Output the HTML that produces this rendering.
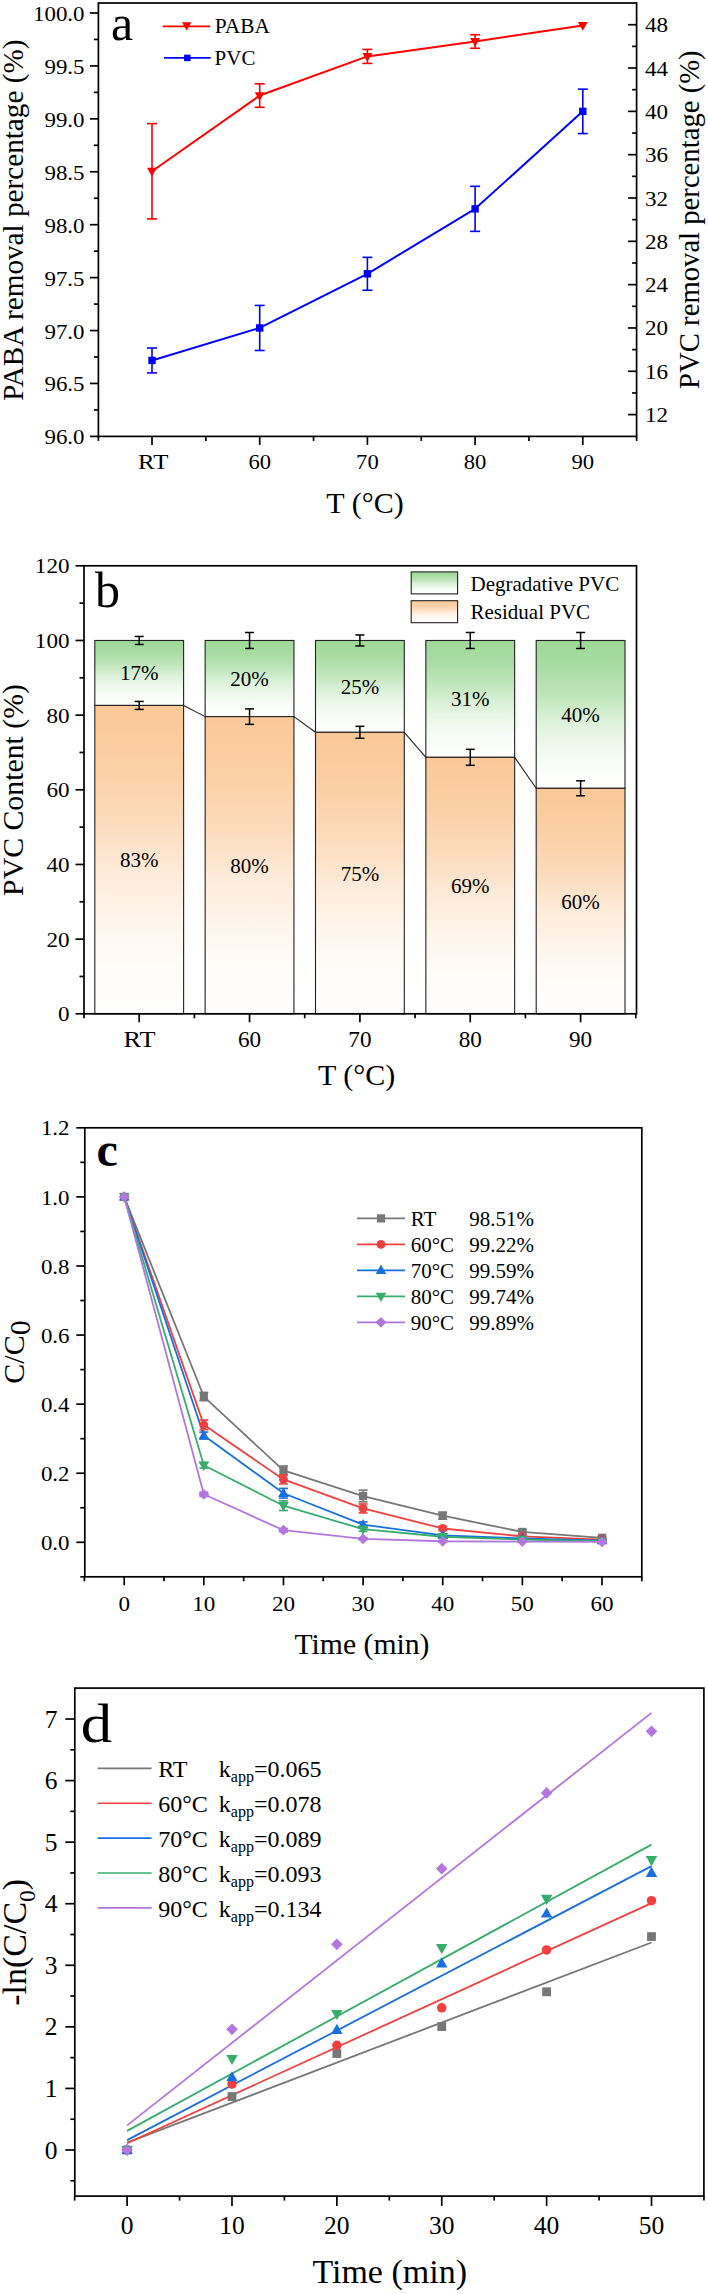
<!DOCTYPE html><html><head><meta charset="utf-8"><style>html,body{margin:0;padding:0;background:#fff}svg{display:block}</style></head><body><svg width="708" height="2294" viewBox="0 0 708 2294" style="font-family:&quot;Liberation Serif&quot;, serif">
<rect width="708" height="2294" fill="#fff"/>
<rect x="98.40" y="3.00" width="538.20" height="433.40" fill="none" stroke="#000" stroke-width="1.7"/>
<line x1="152.00" y1="436.40" x2="152.00" y2="444.90" stroke="#000" stroke-width="1.7"/>
<line x1="259.70" y1="436.40" x2="259.70" y2="444.90" stroke="#000" stroke-width="1.7"/>
<line x1="367.40" y1="436.40" x2="367.40" y2="444.90" stroke="#000" stroke-width="1.7"/>
<line x1="475.10" y1="436.40" x2="475.10" y2="444.90" stroke="#000" stroke-width="1.7"/>
<line x1="582.80" y1="436.40" x2="582.80" y2="444.90" stroke="#000" stroke-width="1.7"/>
<line x1="98.40" y1="436.40" x2="98.40" y2="440.90" stroke="#000" stroke-width="1.7"/>
<line x1="205.85" y1="436.40" x2="205.85" y2="440.90" stroke="#000" stroke-width="1.7"/>
<line x1="313.55" y1="436.40" x2="313.55" y2="440.90" stroke="#000" stroke-width="1.7"/>
<line x1="421.25" y1="436.40" x2="421.25" y2="440.90" stroke="#000" stroke-width="1.7"/>
<line x1="528.95" y1="436.40" x2="528.95" y2="440.90" stroke="#000" stroke-width="1.7"/>
<line x1="636.65" y1="436.40" x2="636.65" y2="440.90" stroke="#000" stroke-width="1.7"/>
<text x="0" y="0" font-size="22" text-anchor="middle" fill="#000" transform="translate(153.20 469.00) scale(1.13 1)">RT</text>
<text x="0" y="0" font-size="22" text-anchor="middle" fill="#000" transform="translate(259.70 469.00) scale(1.03 1)">60</text>
<text x="0" y="0" font-size="22" text-anchor="middle" fill="#000" transform="translate(367.40 469.00) scale(1.03 1)">70</text>
<text x="0" y="0" font-size="22" text-anchor="middle" fill="#000" transform="translate(475.10 469.00) scale(1.03 1)">80</text>
<text x="0" y="0" font-size="22" text-anchor="middle" fill="#000" transform="translate(582.80 469.00) scale(1.03 1)">90</text>
<line x1="89.90" y1="436.40" x2="98.40" y2="436.40" stroke="#000" stroke-width="1.7"/>
<text x="0" y="0" font-size="22" text-anchor="end" fill="#000" transform="translate(84.50 444.40) scale(1.04 1)">96.0</text>
<line x1="89.90" y1="383.47" x2="98.40" y2="383.47" stroke="#000" stroke-width="1.7"/>
<text x="0" y="0" font-size="22" text-anchor="end" fill="#000" transform="translate(84.50 391.47) scale(1.04 1)">96.5</text>
<line x1="89.90" y1="330.55" x2="98.40" y2="330.55" stroke="#000" stroke-width="1.7"/>
<text x="0" y="0" font-size="22" text-anchor="end" fill="#000" transform="translate(84.50 338.55) scale(1.04 1)">97.0</text>
<line x1="89.90" y1="277.62" x2="98.40" y2="277.62" stroke="#000" stroke-width="1.7"/>
<text x="0" y="0" font-size="22" text-anchor="end" fill="#000" transform="translate(84.50 285.62) scale(1.04 1)">97.5</text>
<line x1="89.90" y1="224.70" x2="98.40" y2="224.70" stroke="#000" stroke-width="1.7"/>
<text x="0" y="0" font-size="22" text-anchor="end" fill="#000" transform="translate(84.50 232.70) scale(1.04 1)">98.0</text>
<line x1="89.90" y1="171.77" x2="98.40" y2="171.77" stroke="#000" stroke-width="1.7"/>
<text x="0" y="0" font-size="22" text-anchor="end" fill="#000" transform="translate(84.50 179.77) scale(1.04 1)">98.5</text>
<line x1="89.90" y1="118.85" x2="98.40" y2="118.85" stroke="#000" stroke-width="1.7"/>
<text x="0" y="0" font-size="22" text-anchor="end" fill="#000" transform="translate(84.50 126.85) scale(1.04 1)">99.0</text>
<line x1="89.90" y1="65.93" x2="98.40" y2="65.93" stroke="#000" stroke-width="1.7"/>
<text x="0" y="0" font-size="22" text-anchor="end" fill="#000" transform="translate(84.50 73.93) scale(1.04 1)">99.5</text>
<line x1="89.90" y1="13.00" x2="98.40" y2="13.00" stroke="#000" stroke-width="1.7"/>
<text x="0" y="0" font-size="22" text-anchor="end" fill="#000" transform="translate(84.50 21.00) scale(1.04 1)">100.0</text>
<line x1="93.90" y1="409.94" x2="98.40" y2="409.94" stroke="#000" stroke-width="1.7"/>
<line x1="93.90" y1="357.01" x2="98.40" y2="357.01" stroke="#000" stroke-width="1.7"/>
<line x1="93.90" y1="304.09" x2="98.40" y2="304.09" stroke="#000" stroke-width="1.7"/>
<line x1="93.90" y1="251.16" x2="98.40" y2="251.16" stroke="#000" stroke-width="1.7"/>
<line x1="93.90" y1="198.24" x2="98.40" y2="198.24" stroke="#000" stroke-width="1.7"/>
<line x1="93.90" y1="145.31" x2="98.40" y2="145.31" stroke="#000" stroke-width="1.7"/>
<line x1="93.90" y1="92.39" x2="98.40" y2="92.39" stroke="#000" stroke-width="1.7"/>
<line x1="93.90" y1="39.46" x2="98.40" y2="39.46" stroke="#000" stroke-width="1.7"/>
<line x1="628.10" y1="414.60" x2="636.60" y2="414.60" stroke="#000" stroke-width="1.7"/>
<text x="0" y="0" font-size="22" text-anchor="start" fill="#000" transform="translate(645.00 422.10) scale(1.05 1)">12</text>
<line x1="628.10" y1="371.28" x2="636.60" y2="371.28" stroke="#000" stroke-width="1.7"/>
<text x="0" y="0" font-size="22" text-anchor="start" fill="#000" transform="translate(645.00 378.78) scale(1.05 1)">16</text>
<line x1="628.10" y1="327.96" x2="636.60" y2="327.96" stroke="#000" stroke-width="1.7"/>
<text x="0" y="0" font-size="22" text-anchor="start" fill="#000" transform="translate(645.00 335.46) scale(1.05 1)">20</text>
<line x1="628.10" y1="284.64" x2="636.60" y2="284.64" stroke="#000" stroke-width="1.7"/>
<text x="0" y="0" font-size="22" text-anchor="start" fill="#000" transform="translate(645.00 292.14) scale(1.05 1)">24</text>
<line x1="628.10" y1="241.32" x2="636.60" y2="241.32" stroke="#000" stroke-width="1.7"/>
<text x="0" y="0" font-size="22" text-anchor="start" fill="#000" transform="translate(645.00 248.82) scale(1.05 1)">28</text>
<line x1="628.10" y1="198.00" x2="636.60" y2="198.00" stroke="#000" stroke-width="1.7"/>
<text x="0" y="0" font-size="22" text-anchor="start" fill="#000" transform="translate(645.00 205.50) scale(1.05 1)">32</text>
<line x1="628.10" y1="154.68" x2="636.60" y2="154.68" stroke="#000" stroke-width="1.7"/>
<text x="0" y="0" font-size="22" text-anchor="start" fill="#000" transform="translate(645.00 162.18) scale(1.05 1)">36</text>
<line x1="628.10" y1="111.36" x2="636.60" y2="111.36" stroke="#000" stroke-width="1.7"/>
<text x="0" y="0" font-size="22" text-anchor="start" fill="#000" transform="translate(645.00 118.86) scale(1.05 1)">40</text>
<line x1="628.10" y1="68.04" x2="636.60" y2="68.04" stroke="#000" stroke-width="1.7"/>
<text x="0" y="0" font-size="22" text-anchor="start" fill="#000" transform="translate(645.00 75.54) scale(1.05 1)">44</text>
<line x1="628.10" y1="24.72" x2="636.60" y2="24.72" stroke="#000" stroke-width="1.7"/>
<text x="0" y="0" font-size="22" text-anchor="start" fill="#000" transform="translate(645.00 32.22) scale(1.05 1)">48</text>
<line x1="632.10" y1="392.94" x2="636.60" y2="392.94" stroke="#000" stroke-width="1.7"/>
<line x1="632.10" y1="349.62" x2="636.60" y2="349.62" stroke="#000" stroke-width="1.7"/>
<line x1="632.10" y1="306.30" x2="636.60" y2="306.30" stroke="#000" stroke-width="1.7"/>
<line x1="632.10" y1="262.98" x2="636.60" y2="262.98" stroke="#000" stroke-width="1.7"/>
<line x1="632.10" y1="219.66" x2="636.60" y2="219.66" stroke="#000" stroke-width="1.7"/>
<line x1="632.10" y1="176.34" x2="636.60" y2="176.34" stroke="#000" stroke-width="1.7"/>
<line x1="632.10" y1="133.02" x2="636.60" y2="133.02" stroke="#000" stroke-width="1.7"/>
<line x1="632.10" y1="89.70" x2="636.60" y2="89.70" stroke="#000" stroke-width="1.7"/>
<line x1="632.10" y1="46.38" x2="636.60" y2="46.38" stroke="#000" stroke-width="1.7"/>
<text x="23.00" y="220.20" font-size="29.2" text-anchor="middle" fill="#000" transform="rotate(-90 23 220.2)">PABA removal percentage (%)</text>
<text x="698.80" y="219.60" font-size="28.7" text-anchor="middle" fill="#000" transform="rotate(-90 698.8 219.6)">PVC removal percentage (%)</text>
<text x="365.00" y="513.00" font-size="30" text-anchor="middle" fill="#000">T (°C)</text>
<text x="111.00" y="39.50" font-size="50" text-anchor="start" fill="#000">a</text>
<polyline points="152.00,171.25 259.70,95.56 367.40,56.40 475.10,41.47 582.80,25.49" fill="none" stroke="#FF0000" stroke-width="2.0" stroke-linejoin="round"/>
<line x1="152.00" y1="123.61" x2="152.00" y2="218.88" stroke="#FF0000" stroke-width="1.6"/>
<line x1="147.00" y1="123.61" x2="157.00" y2="123.61" stroke="#FF0000" stroke-width="1.6"/>
<line x1="147.00" y1="218.88" x2="157.00" y2="218.88" stroke="#FF0000" stroke-width="1.6"/>
<polygon points="147.06,167.83 156.94,167.83 152.00,176.57" fill="#FF0000"/>
<line x1="259.70" y1="83.81" x2="259.70" y2="107.31" stroke="#FF0000" stroke-width="1.6"/>
<line x1="254.70" y1="83.81" x2="264.70" y2="83.81" stroke="#FF0000" stroke-width="1.6"/>
<line x1="254.70" y1="107.31" x2="264.70" y2="107.31" stroke="#FF0000" stroke-width="1.6"/>
<polygon points="254.76,92.14 264.64,92.14 259.70,100.88" fill="#FF0000"/>
<line x1="367.40" y1="49.41" x2="367.40" y2="63.38" stroke="#FF0000" stroke-width="1.6"/>
<line x1="362.40" y1="49.41" x2="372.40" y2="49.41" stroke="#FF0000" stroke-width="1.6"/>
<line x1="362.40" y1="63.38" x2="372.40" y2="63.38" stroke="#FF0000" stroke-width="1.6"/>
<polygon points="362.46,52.98 372.34,52.98 367.40,61.72" fill="#FF0000"/>
<line x1="475.10" y1="34.70" x2="475.10" y2="48.25" stroke="#FF0000" stroke-width="1.6"/>
<line x1="470.10" y1="34.70" x2="480.10" y2="34.70" stroke="#FF0000" stroke-width="1.6"/>
<line x1="470.10" y1="48.25" x2="480.10" y2="48.25" stroke="#FF0000" stroke-width="1.6"/>
<polygon points="470.16,38.05 480.04,38.05 475.10,46.79" fill="#FF0000"/>
<polygon points="577.86,22.07 587.74,22.07 582.80,30.81" fill="#FF0000"/>
<polyline points="152.00,360.45 259.70,327.96 367.40,273.81 475.10,208.83 582.80,111.36" fill="none" stroke="#0000FF" stroke-width="2.0" stroke-linejoin="round"/>
<line x1="152.00" y1="348.00" x2="152.00" y2="372.90" stroke="#0000FF" stroke-width="1.6"/>
<line x1="147.00" y1="348.00" x2="157.00" y2="348.00" stroke="#0000FF" stroke-width="1.6"/>
<line x1="147.00" y1="372.90" x2="157.00" y2="372.90" stroke="#0000FF" stroke-width="1.6"/>
<rect x="148.30" y="356.75" width="7.40" height="7.40" fill="#0000FF"/>
<line x1="259.70" y1="305.43" x2="259.70" y2="350.49" stroke="#0000FF" stroke-width="1.6"/>
<line x1="254.70" y1="305.43" x2="264.70" y2="305.43" stroke="#0000FF" stroke-width="1.6"/>
<line x1="254.70" y1="350.49" x2="264.70" y2="350.49" stroke="#0000FF" stroke-width="1.6"/>
<rect x="256.00" y="324.26" width="7.40" height="7.40" fill="#0000FF"/>
<line x1="367.40" y1="257.35" x2="367.40" y2="290.27" stroke="#0000FF" stroke-width="1.6"/>
<line x1="362.40" y1="257.35" x2="372.40" y2="257.35" stroke="#0000FF" stroke-width="1.6"/>
<line x1="362.40" y1="290.27" x2="372.40" y2="290.27" stroke="#0000FF" stroke-width="1.6"/>
<rect x="363.70" y="270.11" width="7.40" height="7.40" fill="#0000FF"/>
<line x1="475.10" y1="186.30" x2="475.10" y2="231.36" stroke="#0000FF" stroke-width="1.6"/>
<line x1="470.10" y1="186.30" x2="480.10" y2="186.30" stroke="#0000FF" stroke-width="1.6"/>
<line x1="470.10" y1="231.36" x2="480.10" y2="231.36" stroke="#0000FF" stroke-width="1.6"/>
<rect x="471.40" y="205.13" width="7.40" height="7.40" fill="#0000FF"/>
<line x1="582.80" y1="89.16" x2="582.80" y2="133.56" stroke="#0000FF" stroke-width="1.6"/>
<line x1="577.80" y1="89.16" x2="587.80" y2="89.16" stroke="#0000FF" stroke-width="1.6"/>
<line x1="577.80" y1="133.56" x2="587.80" y2="133.56" stroke="#0000FF" stroke-width="1.6"/>
<rect x="579.10" y="107.66" width="7.40" height="7.40" fill="#0000FF"/>
<line x1="162.70" y1="26.30" x2="210.20" y2="26.30" stroke="#FF0000" stroke-width="1.8"/>
<polygon points="182.02,22.26 191.38,22.26 186.70,30.54" fill="#FF0000"/>
<text x="0" y="0" font-size="20" text-anchor="start" fill="#000" transform="translate(214.80 33.30) scale(1.07 1)">PABA</text>
<line x1="164.00" y1="57.90" x2="210.70" y2="57.90" stroke="#0000FF" stroke-width="1.8"/>
<rect x="184.05" y="54.65" width="6.50" height="6.50" fill="#0000FF"/>
<text x="0" y="0" font-size="20" text-anchor="start" fill="#000" transform="translate(214.60 65.00) scale(1.05 1)">PVC</text>
<defs><linearGradient id="gg" x1="0" y1="0" x2="0" y2="1"><stop offset="0" stop-color="rgb(158,216,152)"/><stop offset="0.19" stop-color="rgb(170,221,164)"/><stop offset="0.38" stop-color="rgb(192,230,188)"/><stop offset="0.54" stop-color="rgb(219,241,217)"/><stop offset="0.7" stop-color="rgb(238,248,236)"/><stop offset="0.85" stop-color="rgb(249,253,249)"/><stop offset="1" stop-color="rgb(255,255,255)"/></linearGradient><linearGradient id="og" x1="0" y1="0" x2="0" y2="1"><stop offset="0" stop-color="rgb(251,200,152)"/><stop offset="0.19" stop-color="rgb(251,207,164)"/><stop offset="0.38" stop-color="rgb(252,219,188)"/><stop offset="0.54" stop-color="rgb(254,235,217)"/><stop offset="0.7" stop-color="rgb(254,245,236)"/><stop offset="0.85" stop-color="rgb(255,252,249)"/><stop offset="1" stop-color="rgb(255,255,255)"/></linearGradient></defs>
<rect x="94.80" y="640.47" width="88.8" height="64.96" fill="url(#gg)" stroke="#222" stroke-width="1.1"/>
<rect x="94.80" y="705.43" width="88.8" height="308.37" fill="url(#og)" stroke="#222" stroke-width="1.1"/>
<rect x="205.15" y="640.47" width="88.8" height="76.16" fill="url(#gg)" stroke="#222" stroke-width="1.1"/>
<rect x="205.15" y="716.63" width="88.8" height="297.17" fill="url(#og)" stroke="#222" stroke-width="1.1"/>
<rect x="315.50" y="640.47" width="88.8" height="91.84" fill="url(#gg)" stroke="#222" stroke-width="1.1"/>
<rect x="315.50" y="732.31" width="88.8" height="281.49" fill="url(#og)" stroke="#222" stroke-width="1.1"/>
<rect x="425.85" y="640.47" width="88.8" height="116.85" fill="url(#gg)" stroke="#222" stroke-width="1.1"/>
<rect x="425.85" y="757.32" width="88.8" height="256.48" fill="url(#og)" stroke="#222" stroke-width="1.1"/>
<rect x="536.20" y="640.47" width="88.8" height="147.84" fill="url(#gg)" stroke="#222" stroke-width="1.1"/>
<rect x="536.20" y="788.31" width="88.8" height="225.49" fill="url(#og)" stroke="#222" stroke-width="1.1"/>
<line x1="183.60" y1="705.43" x2="205.15" y2="716.63" stroke="#222" stroke-width="1.1"/>
<line x1="293.95" y1="716.63" x2="315.50" y2="732.31" stroke="#222" stroke-width="1.1"/>
<line x1="404.30" y1="732.31" x2="425.85" y2="757.32" stroke="#222" stroke-width="1.1"/>
<line x1="514.65" y1="757.32" x2="536.20" y2="788.31" stroke="#222" stroke-width="1.1"/>
<line x1="139.20" y1="636.47" x2="139.20" y2="644.46" stroke="#000" stroke-width="1.5"/>
<line x1="134.70" y1="636.47" x2="143.70" y2="636.47" stroke="#000" stroke-width="1.5"/>
<line x1="134.70" y1="644.46" x2="143.70" y2="644.46" stroke="#000" stroke-width="1.5"/>
<line x1="139.20" y1="701.43" x2="139.20" y2="709.42" stroke="#000" stroke-width="1.5"/>
<line x1="134.70" y1="701.43" x2="143.70" y2="701.43" stroke="#000" stroke-width="1.5"/>
<line x1="134.70" y1="709.42" x2="143.70" y2="709.42" stroke="#000" stroke-width="1.5"/>
<text x="139.20" y="680.45" font-size="21" text-anchor="middle" fill="#000">17%</text>
<text x="139.20" y="867.11" font-size="21" text-anchor="middle" fill="#000">83%</text>
<line x1="249.55" y1="632.48" x2="249.55" y2="648.46" stroke="#000" stroke-width="1.5"/>
<line x1="245.05" y1="632.48" x2="254.05" y2="632.48" stroke="#000" stroke-width="1.5"/>
<line x1="245.05" y1="648.46" x2="254.05" y2="648.46" stroke="#000" stroke-width="1.5"/>
<line x1="249.55" y1="708.90" x2="249.55" y2="724.35" stroke="#000" stroke-width="1.5"/>
<line x1="245.05" y1="708.90" x2="254.05" y2="708.90" stroke="#000" stroke-width="1.5"/>
<line x1="245.05" y1="724.35" x2="254.05" y2="724.35" stroke="#000" stroke-width="1.5"/>
<text x="249.55" y="686.05" font-size="21" text-anchor="middle" fill="#000">20%</text>
<text x="249.55" y="872.71" font-size="21" text-anchor="middle" fill="#000">80%</text>
<line x1="359.90" y1="634.98" x2="359.90" y2="645.95" stroke="#000" stroke-width="1.5"/>
<line x1="355.40" y1="634.98" x2="364.40" y2="634.98" stroke="#000" stroke-width="1.5"/>
<line x1="355.40" y1="645.95" x2="364.40" y2="645.95" stroke="#000" stroke-width="1.5"/>
<line x1="359.90" y1="726.33" x2="359.90" y2="738.28" stroke="#000" stroke-width="1.5"/>
<line x1="355.40" y1="726.33" x2="364.40" y2="726.33" stroke="#000" stroke-width="1.5"/>
<line x1="355.40" y1="738.28" x2="364.40" y2="738.28" stroke="#000" stroke-width="1.5"/>
<text x="359.90" y="693.89" font-size="21" text-anchor="middle" fill="#000">25%</text>
<text x="359.90" y="880.55" font-size="21" text-anchor="middle" fill="#000">75%</text>
<line x1="470.25" y1="632.48" x2="470.25" y2="648.46" stroke="#000" stroke-width="1.5"/>
<line x1="465.75" y1="632.48" x2="474.75" y2="632.48" stroke="#000" stroke-width="1.5"/>
<line x1="465.75" y1="648.46" x2="474.75" y2="648.46" stroke="#000" stroke-width="1.5"/>
<line x1="470.25" y1="749.33" x2="470.25" y2="765.31" stroke="#000" stroke-width="1.5"/>
<line x1="465.75" y1="749.33" x2="474.75" y2="749.33" stroke="#000" stroke-width="1.5"/>
<line x1="465.75" y1="765.31" x2="474.75" y2="765.31" stroke="#000" stroke-width="1.5"/>
<text x="470.25" y="706.39" font-size="21" text-anchor="middle" fill="#000">31%</text>
<text x="470.25" y="893.06" font-size="21" text-anchor="middle" fill="#000">69%</text>
<line x1="580.60" y1="632.48" x2="580.60" y2="648.46" stroke="#000" stroke-width="1.5"/>
<line x1="576.10" y1="632.48" x2="585.10" y2="632.48" stroke="#000" stroke-width="1.5"/>
<line x1="576.10" y1="648.46" x2="585.10" y2="648.46" stroke="#000" stroke-width="1.5"/>
<line x1="580.60" y1="780.84" x2="580.60" y2="795.77" stroke="#000" stroke-width="1.5"/>
<line x1="576.10" y1="780.84" x2="585.10" y2="780.84" stroke="#000" stroke-width="1.5"/>
<line x1="576.10" y1="795.77" x2="585.10" y2="795.77" stroke="#000" stroke-width="1.5"/>
<text x="580.60" y="721.89" font-size="21" text-anchor="middle" fill="#000">40%</text>
<text x="580.60" y="908.55" font-size="21" text-anchor="middle" fill="#000">60%</text>
<rect x="84.00" y="565.80" width="552.50" height="448.00" fill="none" stroke="#000" stroke-width="1.7"/>
<line x1="139.20" y1="1013.80" x2="139.20" y2="1022.30" stroke="#000" stroke-width="1.7"/>
<line x1="249.55" y1="1013.80" x2="249.55" y2="1022.30" stroke="#000" stroke-width="1.7"/>
<line x1="359.90" y1="1013.80" x2="359.90" y2="1022.30" stroke="#000" stroke-width="1.7"/>
<line x1="470.25" y1="1013.80" x2="470.25" y2="1022.30" stroke="#000" stroke-width="1.7"/>
<line x1="580.60" y1="1013.80" x2="580.60" y2="1022.30" stroke="#000" stroke-width="1.7"/>
<line x1="84.00" y1="1013.80" x2="84.00" y2="1018.30" stroke="#000" stroke-width="1.7"/>
<line x1="194.38" y1="1013.80" x2="194.38" y2="1018.30" stroke="#000" stroke-width="1.7"/>
<line x1="304.72" y1="1013.80" x2="304.72" y2="1018.30" stroke="#000" stroke-width="1.7"/>
<line x1="415.07" y1="1013.80" x2="415.07" y2="1018.30" stroke="#000" stroke-width="1.7"/>
<line x1="525.42" y1="1013.80" x2="525.42" y2="1018.30" stroke="#000" stroke-width="1.7"/>
<line x1="635.77" y1="1013.80" x2="635.77" y2="1018.30" stroke="#000" stroke-width="1.7"/>
<text x="0" y="0" font-size="22.5" text-anchor="middle" fill="#000" transform="translate(139.60 1047.00) scale(1.17 1)">RT</text>
<text x="0" y="0" font-size="22.5" text-anchor="middle" fill="#000" transform="translate(249.55 1047.00) scale(1.03 1)">60</text>
<text x="0" y="0" font-size="22.5" text-anchor="middle" fill="#000" transform="translate(359.90 1047.00) scale(1.03 1)">70</text>
<text x="0" y="0" font-size="22.5" text-anchor="middle" fill="#000" transform="translate(470.25 1047.00) scale(1.03 1)">80</text>
<text x="0" y="0" font-size="22.5" text-anchor="middle" fill="#000" transform="translate(580.60 1047.00) scale(1.03 1)">90</text>
<line x1="75.50" y1="1013.80" x2="84.00" y2="1013.80" stroke="#000" stroke-width="1.7"/>
<text x="0" y="0" font-size="22" text-anchor="end" fill="#000" transform="translate(69.50 1021.40) scale(1.05 1)">0</text>
<line x1="75.50" y1="939.13" x2="84.00" y2="939.13" stroke="#000" stroke-width="1.7"/>
<text x="0" y="0" font-size="22" text-anchor="end" fill="#000" transform="translate(69.50 946.73) scale(1.05 1)">20</text>
<line x1="75.50" y1="864.47" x2="84.00" y2="864.47" stroke="#000" stroke-width="1.7"/>
<text x="0" y="0" font-size="22" text-anchor="end" fill="#000" transform="translate(69.50 872.07) scale(1.05 1)">40</text>
<line x1="75.50" y1="789.80" x2="84.00" y2="789.80" stroke="#000" stroke-width="1.7"/>
<text x="0" y="0" font-size="22" text-anchor="end" fill="#000" transform="translate(69.50 797.40) scale(1.05 1)">60</text>
<line x1="75.50" y1="715.13" x2="84.00" y2="715.13" stroke="#000" stroke-width="1.7"/>
<text x="0" y="0" font-size="22" text-anchor="end" fill="#000" transform="translate(69.50 722.73) scale(1.05 1)">80</text>
<line x1="75.50" y1="640.47" x2="84.00" y2="640.47" stroke="#000" stroke-width="1.7"/>
<text x="0" y="0" font-size="22" text-anchor="end" fill="#000" transform="translate(69.50 648.07) scale(1.05 1)">100</text>
<line x1="75.50" y1="565.80" x2="84.00" y2="565.80" stroke="#000" stroke-width="1.7"/>
<text x="0" y="0" font-size="22" text-anchor="end" fill="#000" transform="translate(69.50 573.40) scale(1.05 1)">120</text>
<line x1="79.50" y1="976.47" x2="84.00" y2="976.47" stroke="#000" stroke-width="1.7"/>
<line x1="79.50" y1="901.80" x2="84.00" y2="901.80" stroke="#000" stroke-width="1.7"/>
<line x1="79.50" y1="827.13" x2="84.00" y2="827.13" stroke="#000" stroke-width="1.7"/>
<line x1="79.50" y1="752.47" x2="84.00" y2="752.47" stroke="#000" stroke-width="1.7"/>
<line x1="79.50" y1="677.80" x2="84.00" y2="677.80" stroke="#000" stroke-width="1.7"/>
<line x1="79.50" y1="603.13" x2="84.00" y2="603.13" stroke="#000" stroke-width="1.7"/>
<text x="23.30" y="790.00" font-size="29.8" text-anchor="middle" fill="#000" transform="rotate(-90 23.3 790)">PVC Content (%)</text>
<text x="356.60" y="1085.20" font-size="30" text-anchor="middle" fill="#000">T (°C)</text>
<text x="95.00" y="607.20" font-size="50" text-anchor="start" fill="#000">b</text>
<rect x="411.2" y="571.9" width="46.4" height="22" fill="url(#gg)" stroke="#222" stroke-width="1.1"/>
<rect x="411.2" y="600.7" width="46.4" height="22" fill="url(#og)" stroke="#222" stroke-width="1.1"/>
<text x="470.50" y="591.30" font-size="21" text-anchor="start" fill="#000">Degradative PVC</text>
<text x="470.50" y="619.30" font-size="21" text-anchor="start" fill="#000">Residual PVC</text>
<rect x="84.80" y="1127.80" width="557.00" height="449.00" fill="none" stroke="#000" stroke-width="1.7"/>
<line x1="124.20" y1="1576.80" x2="124.20" y2="1585.30" stroke="#000" stroke-width="1.7"/>
<text x="0" y="0" font-size="22" text-anchor="middle" fill="#000" transform="translate(124.20 1611.00) scale(1.05 1)">0</text>
<line x1="203.83" y1="1576.80" x2="203.83" y2="1585.30" stroke="#000" stroke-width="1.7"/>
<text x="0" y="0" font-size="22" text-anchor="middle" fill="#000" transform="translate(203.83 1611.00) scale(1.05 1)">10</text>
<line x1="283.46" y1="1576.80" x2="283.46" y2="1585.30" stroke="#000" stroke-width="1.7"/>
<text x="0" y="0" font-size="22" text-anchor="middle" fill="#000" transform="translate(283.46 1611.00) scale(1.05 1)">20</text>
<line x1="363.09" y1="1576.80" x2="363.09" y2="1585.30" stroke="#000" stroke-width="1.7"/>
<text x="0" y="0" font-size="22" text-anchor="middle" fill="#000" transform="translate(363.09 1611.00) scale(1.05 1)">30</text>
<line x1="442.72" y1="1576.80" x2="442.72" y2="1585.30" stroke="#000" stroke-width="1.7"/>
<text x="0" y="0" font-size="22" text-anchor="middle" fill="#000" transform="translate(442.72 1611.00) scale(1.05 1)">40</text>
<line x1="522.35" y1="1576.80" x2="522.35" y2="1585.30" stroke="#000" stroke-width="1.7"/>
<text x="0" y="0" font-size="22" text-anchor="middle" fill="#000" transform="translate(522.35 1611.00) scale(1.05 1)">50</text>
<line x1="601.98" y1="1576.80" x2="601.98" y2="1585.30" stroke="#000" stroke-width="1.7"/>
<text x="0" y="0" font-size="22" text-anchor="middle" fill="#000" transform="translate(601.98 1611.00) scale(1.05 1)">60</text>
<line x1="84.39" y1="1576.80" x2="84.39" y2="1581.30" stroke="#000" stroke-width="1.7"/>
<line x1="164.01" y1="1576.80" x2="164.01" y2="1581.30" stroke="#000" stroke-width="1.7"/>
<line x1="243.65" y1="1576.80" x2="243.65" y2="1581.30" stroke="#000" stroke-width="1.7"/>
<line x1="323.27" y1="1576.80" x2="323.27" y2="1581.30" stroke="#000" stroke-width="1.7"/>
<line x1="402.90" y1="1576.80" x2="402.90" y2="1581.30" stroke="#000" stroke-width="1.7"/>
<line x1="482.53" y1="1576.80" x2="482.53" y2="1581.30" stroke="#000" stroke-width="1.7"/>
<line x1="562.17" y1="1576.80" x2="562.17" y2="1581.30" stroke="#000" stroke-width="1.7"/>
<line x1="641.80" y1="1576.80" x2="641.80" y2="1581.30" stroke="#000" stroke-width="1.7"/>
<line x1="76.30" y1="1542.30" x2="84.80" y2="1542.30" stroke="#000" stroke-width="1.7"/>
<text x="0" y="0" font-size="22" text-anchor="end" fill="#000" transform="translate(69.50 1549.90) scale(1.04 1)">0.0</text>
<line x1="76.30" y1="1473.22" x2="84.80" y2="1473.22" stroke="#000" stroke-width="1.7"/>
<text x="0" y="0" font-size="22" text-anchor="end" fill="#000" transform="translate(69.50 1480.82) scale(1.04 1)">0.2</text>
<line x1="76.30" y1="1404.14" x2="84.80" y2="1404.14" stroke="#000" stroke-width="1.7"/>
<text x="0" y="0" font-size="22" text-anchor="end" fill="#000" transform="translate(69.50 1411.74) scale(1.04 1)">0.4</text>
<line x1="76.30" y1="1335.06" x2="84.80" y2="1335.06" stroke="#000" stroke-width="1.7"/>
<text x="0" y="0" font-size="22" text-anchor="end" fill="#000" transform="translate(69.50 1342.66) scale(1.04 1)">0.6</text>
<line x1="76.30" y1="1265.98" x2="84.80" y2="1265.98" stroke="#000" stroke-width="1.7"/>
<text x="0" y="0" font-size="22" text-anchor="end" fill="#000" transform="translate(69.50 1273.58) scale(1.04 1)">0.8</text>
<line x1="76.30" y1="1196.90" x2="84.80" y2="1196.90" stroke="#000" stroke-width="1.7"/>
<text x="0" y="0" font-size="22" text-anchor="end" fill="#000" transform="translate(69.50 1204.50) scale(1.04 1)">1.0</text>
<line x1="76.30" y1="1127.82" x2="84.80" y2="1127.82" stroke="#000" stroke-width="1.7"/>
<text x="0" y="0" font-size="22" text-anchor="end" fill="#000" transform="translate(69.50 1135.42) scale(1.04 1)">1.2</text>
<line x1="80.30" y1="1576.84" x2="84.80" y2="1576.84" stroke="#000" stroke-width="1.7"/>
<line x1="80.30" y1="1507.76" x2="84.80" y2="1507.76" stroke="#000" stroke-width="1.7"/>
<line x1="80.30" y1="1438.68" x2="84.80" y2="1438.68" stroke="#000" stroke-width="1.7"/>
<line x1="80.30" y1="1369.60" x2="84.80" y2="1369.60" stroke="#000" stroke-width="1.7"/>
<line x1="80.30" y1="1300.52" x2="84.80" y2="1300.52" stroke="#000" stroke-width="1.7"/>
<line x1="80.30" y1="1231.44" x2="84.80" y2="1231.44" stroke="#000" stroke-width="1.7"/>
<line x1="80.30" y1="1162.36" x2="84.80" y2="1162.36" stroke="#000" stroke-width="1.7"/>
<polyline points="124.20,1196.90 203.83,1396.54 283.46,1470.46 363.09,1496.02 442.72,1515.70 522.35,1531.94 601.98,1537.81" fill="none" stroke="#777777" stroke-width="1.8" stroke-linejoin="round"/>
<polyline points="124.20,1196.90 203.83,1424.86 283.46,1479.44 363.09,1508.45 442.72,1528.48 522.35,1536.43 601.98,1539.54" fill="none" stroke="#F14040" stroke-width="1.8" stroke-linejoin="round"/>
<polyline points="124.20,1196.90 203.83,1435.57 283.46,1493.25 363.09,1524.68 442.72,1535.39 522.35,1538.50 601.98,1540.57" fill="none" stroke="#1A6FDF" stroke-width="1.8" stroke-linejoin="round"/>
<polyline points="124.20,1196.90 203.83,1465.28 283.46,1505.69 363.09,1529.17 442.72,1536.77 522.35,1539.54 601.98,1541.26" fill="none" stroke="#37AD6B" stroke-width="1.8" stroke-linejoin="round"/>
<polyline points="124.20,1196.90 203.83,1494.29 283.46,1530.21 363.09,1538.85 442.72,1541.26 522.35,1541.61 601.98,1541.95" fill="none" stroke="#B177DE" stroke-width="1.8" stroke-linejoin="round"/>
<rect x="120.10" y="1192.80" width="8.20" height="8.20" fill="#777777"/>
<line x1="203.83" y1="1392.40" x2="203.83" y2="1400.69" stroke="#777777" stroke-width="1.6"/>
<line x1="199.33" y1="1392.40" x2="208.33" y2="1392.40" stroke="#777777" stroke-width="1.6"/>
<line x1="199.33" y1="1400.69" x2="208.33" y2="1400.69" stroke="#777777" stroke-width="1.6"/>
<rect x="199.73" y="1392.44" width="8.20" height="8.20" fill="#777777"/>
<line x1="283.46" y1="1465.97" x2="283.46" y2="1474.95" stroke="#777777" stroke-width="1.6"/>
<line x1="278.96" y1="1465.97" x2="287.96" y2="1465.97" stroke="#777777" stroke-width="1.6"/>
<line x1="278.96" y1="1474.95" x2="287.96" y2="1474.95" stroke="#777777" stroke-width="1.6"/>
<rect x="279.36" y="1466.36" width="8.20" height="8.20" fill="#777777"/>
<line x1="363.09" y1="1490.14" x2="363.09" y2="1501.89" stroke="#777777" stroke-width="1.6"/>
<line x1="358.59" y1="1490.14" x2="367.59" y2="1490.14" stroke="#777777" stroke-width="1.6"/>
<line x1="358.59" y1="1501.89" x2="367.59" y2="1501.89" stroke="#777777" stroke-width="1.6"/>
<rect x="358.99" y="1491.92" width="8.20" height="8.20" fill="#777777"/>
<line x1="442.72" y1="1512.25" x2="442.72" y2="1519.16" stroke="#777777" stroke-width="1.6"/>
<line x1="438.22" y1="1512.25" x2="447.22" y2="1512.25" stroke="#777777" stroke-width="1.6"/>
<line x1="438.22" y1="1519.16" x2="447.22" y2="1519.16" stroke="#777777" stroke-width="1.6"/>
<rect x="438.62" y="1511.60" width="8.20" height="8.20" fill="#777777"/>
<line x1="522.35" y1="1529.87" x2="522.35" y2="1534.01" stroke="#777777" stroke-width="1.6"/>
<line x1="517.85" y1="1529.87" x2="526.85" y2="1529.87" stroke="#777777" stroke-width="1.6"/>
<line x1="517.85" y1="1534.01" x2="526.85" y2="1534.01" stroke="#777777" stroke-width="1.6"/>
<rect x="518.25" y="1527.84" width="8.20" height="8.20" fill="#777777"/>
<line x1="601.98" y1="1536.43" x2="601.98" y2="1539.19" stroke="#777777" stroke-width="1.6"/>
<line x1="597.48" y1="1536.43" x2="606.48" y2="1536.43" stroke="#777777" stroke-width="1.6"/>
<line x1="597.48" y1="1539.19" x2="606.48" y2="1539.19" stroke="#777777" stroke-width="1.6"/>
<rect x="597.88" y="1533.71" width="8.20" height="8.20" fill="#777777"/>
<circle cx="124.20" cy="1196.90" r="4.43" fill="#F14040"/>
<line x1="203.83" y1="1420.03" x2="203.83" y2="1429.70" stroke="#F14040" stroke-width="1.6"/>
<line x1="199.33" y1="1420.03" x2="208.33" y2="1420.03" stroke="#F14040" stroke-width="1.6"/>
<line x1="199.33" y1="1429.70" x2="208.33" y2="1429.70" stroke="#F14040" stroke-width="1.6"/>
<circle cx="203.83" cy="1424.86" r="4.43" fill="#F14040"/>
<line x1="283.46" y1="1474.95" x2="283.46" y2="1483.93" stroke="#F14040" stroke-width="1.6"/>
<line x1="278.96" y1="1474.95" x2="287.96" y2="1474.95" stroke="#F14040" stroke-width="1.6"/>
<line x1="278.96" y1="1483.93" x2="287.96" y2="1483.93" stroke="#F14040" stroke-width="1.6"/>
<circle cx="283.46" cy="1479.44" r="4.43" fill="#F14040"/>
<line x1="363.09" y1="1503.96" x2="363.09" y2="1512.94" stroke="#F14040" stroke-width="1.6"/>
<line x1="358.59" y1="1503.96" x2="367.59" y2="1503.96" stroke="#F14040" stroke-width="1.6"/>
<line x1="358.59" y1="1512.94" x2="367.59" y2="1512.94" stroke="#F14040" stroke-width="1.6"/>
<circle cx="363.09" cy="1508.45" r="4.43" fill="#F14040"/>
<line x1="442.72" y1="1526.41" x2="442.72" y2="1530.56" stroke="#F14040" stroke-width="1.6"/>
<line x1="438.22" y1="1526.41" x2="447.22" y2="1526.41" stroke="#F14040" stroke-width="1.6"/>
<line x1="438.22" y1="1530.56" x2="447.22" y2="1530.56" stroke="#F14040" stroke-width="1.6"/>
<circle cx="442.72" cy="1528.48" r="4.43" fill="#F14040"/>
<line x1="522.35" y1="1535.05" x2="522.35" y2="1537.81" stroke="#F14040" stroke-width="1.6"/>
<line x1="517.85" y1="1535.05" x2="526.85" y2="1535.05" stroke="#F14040" stroke-width="1.6"/>
<line x1="517.85" y1="1537.81" x2="526.85" y2="1537.81" stroke="#F14040" stroke-width="1.6"/>
<circle cx="522.35" cy="1536.43" r="4.43" fill="#F14040"/>
<line x1="601.98" y1="1538.50" x2="601.98" y2="1540.57" stroke="#F14040" stroke-width="1.6"/>
<line x1="597.48" y1="1538.50" x2="606.48" y2="1538.50" stroke="#F14040" stroke-width="1.6"/>
<line x1="597.48" y1="1540.57" x2="606.48" y2="1540.57" stroke="#F14040" stroke-width="1.6"/>
<circle cx="601.98" cy="1539.54" r="4.43" fill="#F14040"/>
<polygon points="118.87,1200.59 129.53,1200.59 124.20,1191.16" fill="#1A6FDF"/>
<line x1="203.83" y1="1432.12" x2="203.83" y2="1439.03" stroke="#1A6FDF" stroke-width="1.6"/>
<line x1="199.33" y1="1432.12" x2="208.33" y2="1432.12" stroke="#1A6FDF" stroke-width="1.6"/>
<line x1="199.33" y1="1439.03" x2="208.33" y2="1439.03" stroke="#1A6FDF" stroke-width="1.6"/>
<polygon points="198.50,1439.26 209.16,1439.26 203.83,1429.83" fill="#1A6FDF"/>
<line x1="283.46" y1="1488.42" x2="283.46" y2="1498.09" stroke="#1A6FDF" stroke-width="1.6"/>
<line x1="278.96" y1="1488.42" x2="287.96" y2="1488.42" stroke="#1A6FDF" stroke-width="1.6"/>
<line x1="278.96" y1="1498.09" x2="287.96" y2="1498.09" stroke="#1A6FDF" stroke-width="1.6"/>
<polygon points="278.13,1496.94 288.79,1496.94 283.46,1487.51" fill="#1A6FDF"/>
<line x1="363.09" y1="1521.92" x2="363.09" y2="1527.45" stroke="#1A6FDF" stroke-width="1.6"/>
<line x1="358.59" y1="1521.92" x2="367.59" y2="1521.92" stroke="#1A6FDF" stroke-width="1.6"/>
<line x1="358.59" y1="1527.45" x2="367.59" y2="1527.45" stroke="#1A6FDF" stroke-width="1.6"/>
<polygon points="357.76,1528.37 368.42,1528.37 363.09,1518.94" fill="#1A6FDF"/>
<line x1="442.72" y1="1533.66" x2="442.72" y2="1537.12" stroke="#1A6FDF" stroke-width="1.6"/>
<line x1="438.22" y1="1533.66" x2="447.22" y2="1533.66" stroke="#1A6FDF" stroke-width="1.6"/>
<line x1="438.22" y1="1537.12" x2="447.22" y2="1537.12" stroke="#1A6FDF" stroke-width="1.6"/>
<polygon points="437.39,1539.08 448.05,1539.08 442.72,1529.65" fill="#1A6FDF"/>
<line x1="522.35" y1="1537.46" x2="522.35" y2="1539.54" stroke="#1A6FDF" stroke-width="1.6"/>
<line x1="517.85" y1="1537.46" x2="526.85" y2="1537.46" stroke="#1A6FDF" stroke-width="1.6"/>
<line x1="517.85" y1="1539.54" x2="526.85" y2="1539.54" stroke="#1A6FDF" stroke-width="1.6"/>
<polygon points="517.02,1542.19 527.68,1542.19 522.35,1532.76" fill="#1A6FDF"/>
<line x1="601.98" y1="1539.88" x2="601.98" y2="1541.26" stroke="#1A6FDF" stroke-width="1.6"/>
<line x1="597.48" y1="1539.88" x2="606.48" y2="1539.88" stroke="#1A6FDF" stroke-width="1.6"/>
<line x1="597.48" y1="1541.26" x2="606.48" y2="1541.26" stroke="#1A6FDF" stroke-width="1.6"/>
<polygon points="596.65,1544.26 607.31,1544.26 601.98,1534.83" fill="#1A6FDF"/>
<polygon points="118.87,1193.21 129.53,1193.21 124.20,1202.64" fill="#37AD6B"/>
<line x1="203.83" y1="1462.51" x2="203.83" y2="1468.04" stroke="#37AD6B" stroke-width="1.6"/>
<line x1="199.33" y1="1462.51" x2="208.33" y2="1462.51" stroke="#37AD6B" stroke-width="1.6"/>
<line x1="199.33" y1="1468.04" x2="208.33" y2="1468.04" stroke="#37AD6B" stroke-width="1.6"/>
<polygon points="198.50,1461.59 209.16,1461.59 203.83,1471.02" fill="#37AD6B"/>
<line x1="283.46" y1="1500.85" x2="283.46" y2="1510.52" stroke="#37AD6B" stroke-width="1.6"/>
<line x1="278.96" y1="1500.85" x2="287.96" y2="1500.85" stroke="#37AD6B" stroke-width="1.6"/>
<line x1="278.96" y1="1510.52" x2="287.96" y2="1510.52" stroke="#37AD6B" stroke-width="1.6"/>
<polygon points="278.13,1502.00 288.79,1502.00 283.46,1511.43" fill="#37AD6B"/>
<line x1="363.09" y1="1527.10" x2="363.09" y2="1531.25" stroke="#37AD6B" stroke-width="1.6"/>
<line x1="358.59" y1="1527.10" x2="367.59" y2="1527.10" stroke="#37AD6B" stroke-width="1.6"/>
<line x1="358.59" y1="1531.25" x2="367.59" y2="1531.25" stroke="#37AD6B" stroke-width="1.6"/>
<polygon points="357.76,1525.48 368.42,1525.48 363.09,1534.91" fill="#37AD6B"/>
<line x1="442.72" y1="1535.39" x2="442.72" y2="1538.16" stroke="#37AD6B" stroke-width="1.6"/>
<line x1="438.22" y1="1535.39" x2="447.22" y2="1535.39" stroke="#37AD6B" stroke-width="1.6"/>
<line x1="438.22" y1="1538.16" x2="447.22" y2="1538.16" stroke="#37AD6B" stroke-width="1.6"/>
<polygon points="437.39,1533.08 448.05,1533.08 442.72,1542.51" fill="#37AD6B"/>
<line x1="522.35" y1="1538.85" x2="522.35" y2="1540.23" stroke="#37AD6B" stroke-width="1.6"/>
<line x1="517.85" y1="1538.85" x2="526.85" y2="1538.85" stroke="#37AD6B" stroke-width="1.6"/>
<line x1="517.85" y1="1540.23" x2="526.85" y2="1540.23" stroke="#37AD6B" stroke-width="1.6"/>
<polygon points="517.02,1535.85 527.68,1535.85 522.35,1545.28" fill="#37AD6B"/>
<line x1="601.98" y1="1540.57" x2="601.98" y2="1541.95" stroke="#37AD6B" stroke-width="1.6"/>
<line x1="597.48" y1="1540.57" x2="606.48" y2="1540.57" stroke="#37AD6B" stroke-width="1.6"/>
<line x1="597.48" y1="1541.95" x2="606.48" y2="1541.95" stroke="#37AD6B" stroke-width="1.6"/>
<polygon points="596.65,1537.57 607.31,1537.57 601.98,1547.00" fill="#37AD6B"/>
<polygon points="124.20,1191.49 129.61,1196.90 124.20,1202.31 118.79,1196.90" fill="#B177DE"/>
<line x1="203.83" y1="1492.22" x2="203.83" y2="1496.36" stroke="#B177DE" stroke-width="1.6"/>
<line x1="199.33" y1="1492.22" x2="208.33" y2="1492.22" stroke="#B177DE" stroke-width="1.6"/>
<line x1="199.33" y1="1496.36" x2="208.33" y2="1496.36" stroke="#B177DE" stroke-width="1.6"/>
<polygon points="203.83,1488.88 209.24,1494.29 203.83,1499.70 198.42,1494.29" fill="#B177DE"/>
<line x1="283.46" y1="1528.48" x2="283.46" y2="1531.94" stroke="#B177DE" stroke-width="1.6"/>
<line x1="278.96" y1="1528.48" x2="287.96" y2="1528.48" stroke="#B177DE" stroke-width="1.6"/>
<line x1="278.96" y1="1531.94" x2="287.96" y2="1531.94" stroke="#B177DE" stroke-width="1.6"/>
<polygon points="283.46,1524.80 288.87,1530.21 283.46,1535.62 278.05,1530.21" fill="#B177DE"/>
<line x1="363.09" y1="1537.81" x2="363.09" y2="1539.88" stroke="#B177DE" stroke-width="1.6"/>
<line x1="358.59" y1="1537.81" x2="367.59" y2="1537.81" stroke="#B177DE" stroke-width="1.6"/>
<line x1="358.59" y1="1539.88" x2="367.59" y2="1539.88" stroke="#B177DE" stroke-width="1.6"/>
<polygon points="363.09,1533.43 368.50,1538.85 363.09,1544.26 357.68,1538.85" fill="#B177DE"/>
<line x1="442.72" y1="1540.57" x2="442.72" y2="1541.95" stroke="#B177DE" stroke-width="1.6"/>
<line x1="438.22" y1="1540.57" x2="447.22" y2="1540.57" stroke="#B177DE" stroke-width="1.6"/>
<line x1="438.22" y1="1541.95" x2="447.22" y2="1541.95" stroke="#B177DE" stroke-width="1.6"/>
<polygon points="442.72,1535.85 448.13,1541.26 442.72,1546.68 437.31,1541.26" fill="#B177DE"/>
<line x1="522.35" y1="1541.26" x2="522.35" y2="1541.95" stroke="#B177DE" stroke-width="1.6"/>
<line x1="517.85" y1="1541.26" x2="526.85" y2="1541.26" stroke="#B177DE" stroke-width="1.6"/>
<line x1="517.85" y1="1541.95" x2="526.85" y2="1541.95" stroke="#B177DE" stroke-width="1.6"/>
<polygon points="522.35,1536.20 527.76,1541.61 522.35,1547.02 516.94,1541.61" fill="#B177DE"/>
<line x1="601.98" y1="1541.61" x2="601.98" y2="1542.30" stroke="#B177DE" stroke-width="1.6"/>
<line x1="597.48" y1="1541.61" x2="606.48" y2="1541.61" stroke="#B177DE" stroke-width="1.6"/>
<line x1="597.48" y1="1542.30" x2="606.48" y2="1542.30" stroke="#B177DE" stroke-width="1.6"/>
<polygon points="601.98,1536.54 607.39,1541.95 601.98,1547.37 596.57,1541.95" fill="#B177DE"/>
<text x="362.00" y="1654.30" font-size="29.7" text-anchor="middle" fill="#000">Time (min)</text>
<text x="23.7" y="1352" font-size="30" text-anchor="middle" transform="rotate(-90 23.7 1352)">C/C<tspan dy="6">0</tspan></text>
<text x="96.50" y="1166.00" font-size="48" text-anchor="start" fill="#000" font-weight="bold">c</text>
<line x1="357.00" y1="1218.40" x2="405.00" y2="1218.40" stroke="#777777" stroke-width="1.8"/>
<rect x="376.90" y="1214.30" width="8.20" height="8.20" fill="#777777"/>
<text x="410.70" y="1225.60" font-size="21" text-anchor="start" fill="#000">RT</text>
<text x="469.20" y="1225.60" font-size="21" text-anchor="start" fill="#000">98.51%</text>
<line x1="357.00" y1="1244.38" x2="405.00" y2="1244.38" stroke="#F14040" stroke-width="1.8"/>
<circle cx="381.00" cy="1244.38" r="4.43" fill="#F14040"/>
<text x="410.70" y="1251.58" font-size="21" text-anchor="start" fill="#000">60°C</text>
<text x="469.20" y="1251.58" font-size="21" text-anchor="start" fill="#000">99.22%</text>
<line x1="357.00" y1="1270.36" x2="405.00" y2="1270.36" stroke="#1A6FDF" stroke-width="1.8"/>
<polygon points="375.67,1274.05 386.33,1274.05 381.00,1264.62" fill="#1A6FDF"/>
<text x="410.70" y="1277.56" font-size="21" text-anchor="start" fill="#000">70°C</text>
<text x="469.20" y="1277.56" font-size="21" text-anchor="start" fill="#000">99.59%</text>
<line x1="357.00" y1="1296.34" x2="405.00" y2="1296.34" stroke="#37AD6B" stroke-width="1.8"/>
<polygon points="375.67,1292.65 386.33,1292.65 381.00,1302.08" fill="#37AD6B"/>
<text x="410.70" y="1303.54" font-size="21" text-anchor="start" fill="#000">80°C</text>
<text x="469.20" y="1303.54" font-size="21" text-anchor="start" fill="#000">99.74%</text>
<line x1="357.00" y1="1322.32" x2="405.00" y2="1322.32" stroke="#B177DE" stroke-width="1.8"/>
<polygon points="381.00,1316.91 386.41,1322.32 381.00,1327.73 375.59,1322.32" fill="#B177DE"/>
<text x="410.70" y="1329.52" font-size="21" text-anchor="start" fill="#000">90°C</text>
<text x="469.20" y="1329.52" font-size="21" text-anchor="start" fill="#000">99.89%</text>
<rect x="74.80" y="1688.10" width="629.10" height="508.00" fill="none" stroke="#000" stroke-width="1.7"/>
<line x1="127.10" y1="2196.10" x2="127.10" y2="2205.90" stroke="#000" stroke-width="1.7"/>
<text x="127.10" y="2234.00" font-size="25.5" text-anchor="middle" fill="#000">0</text>
<line x1="231.98" y1="2196.10" x2="231.98" y2="2205.90" stroke="#000" stroke-width="1.7"/>
<text x="231.98" y="2234.00" font-size="25.5" text-anchor="middle" fill="#000">10</text>
<line x1="336.86" y1="2196.10" x2="336.86" y2="2205.90" stroke="#000" stroke-width="1.7"/>
<text x="336.86" y="2234.00" font-size="25.5" text-anchor="middle" fill="#000">20</text>
<line x1="441.74" y1="2196.10" x2="441.74" y2="2205.90" stroke="#000" stroke-width="1.7"/>
<text x="441.74" y="2234.00" font-size="25.5" text-anchor="middle" fill="#000">30</text>
<line x1="546.62" y1="2196.10" x2="546.62" y2="2205.90" stroke="#000" stroke-width="1.7"/>
<text x="546.62" y="2234.00" font-size="25.5" text-anchor="middle" fill="#000">40</text>
<line x1="651.50" y1="2196.10" x2="651.50" y2="2205.90" stroke="#000" stroke-width="1.7"/>
<text x="651.50" y="2234.00" font-size="25.5" text-anchor="middle" fill="#000">50</text>
<line x1="74.66" y1="2196.10" x2="74.66" y2="2200.60" stroke="#000" stroke-width="1.7"/>
<line x1="179.54" y1="2196.10" x2="179.54" y2="2200.60" stroke="#000" stroke-width="1.7"/>
<line x1="284.42" y1="2196.10" x2="284.42" y2="2200.60" stroke="#000" stroke-width="1.7"/>
<line x1="389.30" y1="2196.10" x2="389.30" y2="2200.60" stroke="#000" stroke-width="1.7"/>
<line x1="494.18" y1="2196.10" x2="494.18" y2="2200.60" stroke="#000" stroke-width="1.7"/>
<line x1="599.06" y1="2196.10" x2="599.06" y2="2200.60" stroke="#000" stroke-width="1.7"/>
<line x1="703.94" y1="2196.10" x2="703.94" y2="2200.60" stroke="#000" stroke-width="1.7"/>
<line x1="65.30" y1="2150.00" x2="74.80" y2="2150.00" stroke="#000" stroke-width="1.7"/>
<text x="57.60" y="2158.50" font-size="25.5" text-anchor="end" fill="#000">0</text>
<line x1="65.30" y1="2088.43" x2="74.80" y2="2088.43" stroke="#000" stroke-width="1.7"/>
<text x="57.60" y="2096.93" font-size="25.5" text-anchor="end" fill="#000">1</text>
<line x1="65.30" y1="2026.86" x2="74.80" y2="2026.86" stroke="#000" stroke-width="1.7"/>
<text x="57.60" y="2035.36" font-size="25.5" text-anchor="end" fill="#000">2</text>
<line x1="65.30" y1="1965.29" x2="74.80" y2="1965.29" stroke="#000" stroke-width="1.7"/>
<text x="57.60" y="1973.79" font-size="25.5" text-anchor="end" fill="#000">3</text>
<line x1="65.30" y1="1903.72" x2="74.80" y2="1903.72" stroke="#000" stroke-width="1.7"/>
<text x="57.60" y="1912.22" font-size="25.5" text-anchor="end" fill="#000">4</text>
<line x1="65.30" y1="1842.15" x2="74.80" y2="1842.15" stroke="#000" stroke-width="1.7"/>
<text x="57.60" y="1850.65" font-size="25.5" text-anchor="end" fill="#000">5</text>
<line x1="65.30" y1="1780.58" x2="74.80" y2="1780.58" stroke="#000" stroke-width="1.7"/>
<text x="57.60" y="1789.08" font-size="25.5" text-anchor="end" fill="#000">6</text>
<line x1="65.30" y1="1719.01" x2="74.80" y2="1719.01" stroke="#000" stroke-width="1.7"/>
<text x="57.60" y="1727.51" font-size="25.5" text-anchor="end" fill="#000">7</text>
<line x1="70.30" y1="2180.78" x2="74.80" y2="2180.78" stroke="#000" stroke-width="1.7"/>
<line x1="70.30" y1="2119.22" x2="74.80" y2="2119.22" stroke="#000" stroke-width="1.7"/>
<line x1="70.30" y1="2057.64" x2="74.80" y2="2057.64" stroke="#000" stroke-width="1.7"/>
<line x1="70.30" y1="1996.08" x2="74.80" y2="1996.08" stroke="#000" stroke-width="1.7"/>
<line x1="70.30" y1="1934.51" x2="74.80" y2="1934.51" stroke="#000" stroke-width="1.7"/>
<line x1="70.30" y1="1872.93" x2="74.80" y2="1872.93" stroke="#000" stroke-width="1.7"/>
<line x1="70.30" y1="1811.37" x2="74.80" y2="1811.37" stroke="#000" stroke-width="1.7"/>
<line x1="70.30" y1="1749.80" x2="74.80" y2="1749.80" stroke="#000" stroke-width="1.7"/>
<line x1="127.10" y1="2142.61" x2="651.50" y2="1942.51" stroke="#777777" stroke-width="1.8"/>
<line x1="127.10" y1="2143.23" x2="651.50" y2="1903.10" stroke="#F14040" stroke-width="1.8"/>
<line x1="127.10" y1="2140.15" x2="651.50" y2="1866.16" stroke="#1A6FDF" stroke-width="1.8"/>
<line x1="127.10" y1="2130.91" x2="651.50" y2="1844.61" stroke="#37AD6B" stroke-width="1.8"/>
<line x1="127.10" y1="2125.37" x2="651.50" y2="1712.85" stroke="#B177DE" stroke-width="1.8"/>
<rect x="122.70" y="2145.60" width="8.80" height="8.80" fill="#777777"/>
<rect x="227.58" y="2092.16" width="8.80" height="8.80" fill="#777777"/>
<rect x="332.46" y="2049.12" width="8.80" height="8.80" fill="#777777"/>
<rect x="437.34" y="2022.15" width="8.80" height="8.80" fill="#777777"/>
<rect x="542.22" y="1987.37" width="8.80" height="8.80" fill="#777777"/>
<rect x="647.10" y="1932.20" width="8.80" height="8.80" fill="#777777"/>
<circle cx="127.10" cy="2150.00" r="4.75" fill="#F14040"/>
<circle cx="231.98" cy="2084.12" r="4.75" fill="#F14040"/>
<circle cx="336.86" cy="2045.33" r="4.75" fill="#F14040"/>
<circle cx="441.74" cy="2007.77" r="4.75" fill="#F14040"/>
<circle cx="546.62" cy="1949.90" r="4.75" fill="#F14040"/>
<circle cx="651.50" cy="1900.64" r="4.75" fill="#F14040"/>
<polygon points="121.38,2153.96 132.82,2153.96 127.10,2143.84" fill="#1A6FDF"/>
<polygon points="226.26,2081.31 237.70,2081.31 231.98,2071.19" fill="#1A6FDF"/>
<polygon points="331.14,2033.90 342.58,2033.90 336.86,2023.78" fill="#1A6FDF"/>
<polygon points="436.02,1967.40 447.46,1967.40 441.74,1957.28" fill="#1A6FDF"/>
<polygon points="540.90,1917.53 552.34,1917.53 546.62,1907.41" fill="#1A6FDF"/>
<polygon points="645.78,1876.89 657.22,1876.89 651.50,1866.77" fill="#1A6FDF"/>
<polygon points="121.38,2146.04 132.82,2146.04 127.10,2156.16" fill="#37AD6B"/>
<polygon points="226.26,2054.92 237.70,2054.92 231.98,2065.04" fill="#37AD6B"/>
<polygon points="331.14,2009.97 342.58,2009.97 336.86,2020.09" fill="#37AD6B"/>
<polygon points="436.02,1944.09 447.46,1944.09 441.74,1954.21" fill="#37AD6B"/>
<polygon points="540.90,1894.83 552.34,1894.83 546.62,1904.95" fill="#37AD6B"/>
<polygon points="645.78,1856.05 657.22,1856.05 651.50,1866.17" fill="#37AD6B"/>
<polygon points="127.10,2144.19 132.91,2150.00 127.10,2155.81 121.29,2150.00" fill="#B177DE"/>
<polygon points="231.98,2023.51 237.79,2029.32 231.98,2035.13 226.17,2029.32" fill="#B177DE"/>
<polygon points="336.86,1938.55 342.67,1944.36 336.86,1950.16 331.05,1944.36" fill="#B177DE"/>
<polygon points="441.74,1862.82 447.55,1868.63 441.74,1874.43 435.93,1868.63" fill="#B177DE"/>
<polygon points="546.62,1787.09 552.43,1792.89 546.62,1798.70 540.81,1792.89" fill="#B177DE"/>
<polygon points="651.50,1725.52 657.31,1731.32 651.50,1737.13 645.69,1731.32" fill="#B177DE"/>
<text x="389.70" y="2282.80" font-size="34" text-anchor="middle" fill="#000">Time (min)</text>
<text x="26" y="1942.4" font-size="34" text-anchor="middle" transform="rotate(-90 26 1942.4)">-ln(C/C<tspan font-size="23" dy="9">0</tspan><tspan dy="-9">)</tspan></text>
<text x="0" y="0" font-size="56" text-anchor="start" fill="#000" transform="translate(80.80 1742.00) scale(1.12 1)">d</text>
<line x1="97.60" y1="1768.40" x2="151.60" y2="1768.40" stroke="#777777" stroke-width="1.6"/>
<text x="158.20" y="1777.40" font-size="24" text-anchor="start" fill="#000">RT</text>
<text x="218.8" y="1777.40" font-size="24">k<tspan font-size="16" dy="5">app</tspan><tspan dy="-5">=0.065</tspan></text>
<line x1="97.60" y1="1803.28" x2="151.60" y2="1803.28" stroke="#F14040" stroke-width="1.6"/>
<text x="158.20" y="1812.28" font-size="24" text-anchor="start" fill="#000">60°C</text>
<text x="218.8" y="1812.28" font-size="24">k<tspan font-size="16" dy="5">app</tspan><tspan dy="-5">=0.078</tspan></text>
<line x1="97.60" y1="1838.16" x2="151.60" y2="1838.16" stroke="#1A6FDF" stroke-width="1.6"/>
<text x="158.20" y="1847.16" font-size="24" text-anchor="start" fill="#000">70°C</text>
<text x="218.8" y="1847.16" font-size="24">k<tspan font-size="16" dy="5">app</tspan><tspan dy="-5">=0.089</tspan></text>
<line x1="97.60" y1="1873.04" x2="151.60" y2="1873.04" stroke="#37AD6B" stroke-width="1.6"/>
<text x="158.20" y="1882.04" font-size="24" text-anchor="start" fill="#000">80°C</text>
<text x="218.8" y="1882.04" font-size="24">k<tspan font-size="16" dy="5">app</tspan><tspan dy="-5">=0.093</tspan></text>
<line x1="97.60" y1="1907.92" x2="151.60" y2="1907.92" stroke="#B177DE" stroke-width="1.6"/>
<text x="158.20" y="1916.92" font-size="24" text-anchor="start" fill="#000">90°C</text>
<text x="218.8" y="1916.92" font-size="24">k<tspan font-size="16" dy="5">app</tspan><tspan dy="-5">=0.134</tspan></text>
</svg></body></html>
